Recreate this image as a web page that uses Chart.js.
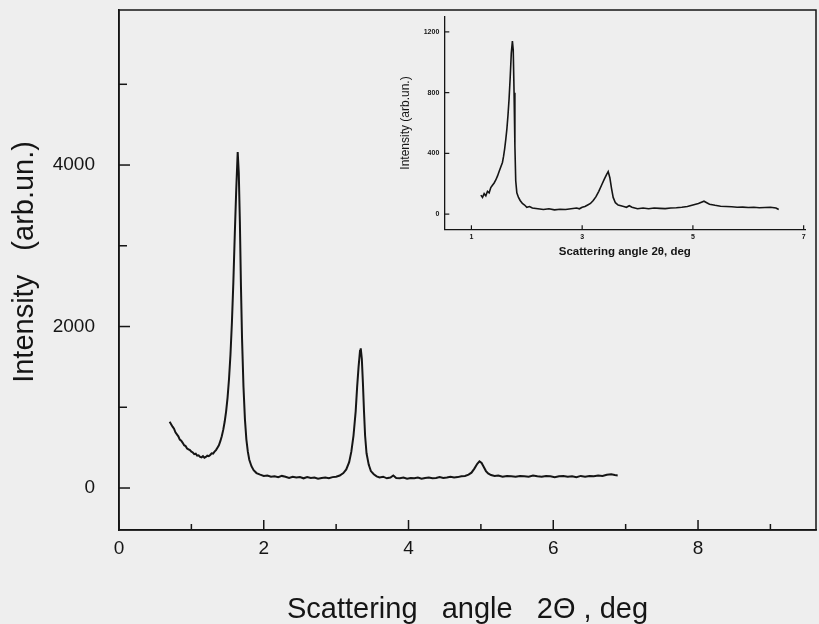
<!DOCTYPE html>
<html>
<head>
<meta charset="utf-8">
<script src="https://cdn.jsdelivr.net/npm/chart.js@4.4.1/dist/chart.umd.min.js"></script>
<style>
  html, body { margin: 0; padding: 0; background: #eeeeee; }
  #wrap { position: relative; width: 819px; height: 624px; overflow: hidden; }
  #mainChart { position: absolute; left: 0; top: 0; }
  #insetChart { position: absolute; left: 395px; top: 0; }
</style>
</head>
<body>
<div id="wrap">
  <canvas id="mainChart" width="819" height="624"></canvas>
  <canvas id="insetChart" width="420" height="265"></canvas>
</div>
<script>
// main pattern, scattering angle 2Θ (deg) vs intensity
const mainAngle = [
  0.70, 0.72, 0.74, 0.76, 0.78, 0.80, 0.82, 0.84, 0.86, 0.88, 0.90, 0.92, 0.94, 0.96, 0.98,
  1.00, 1.02, 1.04, 1.06, 1.08, 1.10, 1.12, 1.14, 1.16, 1.18, 1.20, 1.22, 1.24, 1.26, 1.28,
  1.30, 1.32, 1.34, 1.36, 1.38, 1.40, 1.42, 1.44, 1.46, 1.48, 1.50, 1.52, 1.54, 1.56, 1.58,
  1.60, 1.62, 1.64, 1.655, 1.67, 1.685, 1.70, 1.72, 1.74, 1.76, 1.78, 1.80, 1.83, 1.86, 1.90,
  1.95, 2.00, 2.05, 2.10, 2.15, 2.20, 2.25, 2.30, 2.35, 2.40, 2.45, 2.50, 2.55, 2.60, 2.65,
  2.70, 2.75, 2.80, 2.85, 2.90, 2.95, 3.00, 3.05, 3.10, 3.14, 3.18, 3.21, 3.24, 3.27, 3.29,
  3.31, 3.33, 3.34, 3.355, 3.37, 3.385, 3.40, 3.42, 3.45, 3.48, 3.52, 3.56, 3.60, 3.65, 3.70,
  3.75, 3.79, 3.83, 3.88, 3.93, 3.98, 4.03, 4.08, 4.13, 4.18, 4.23, 4.28, 4.33, 4.38, 4.43,
  4.48, 4.53, 4.58, 4.63, 4.68, 4.73, 4.78, 4.83, 4.87, 4.91, 4.95, 4.98, 5.01, 5.04, 5.07,
  5.10, 5.14, 5.19, 5.24, 5.30, 5.36, 5.42, 5.48, 5.54, 5.60, 5.66, 5.72, 5.78, 5.84, 5.90,
  5.96, 6.02, 6.08, 6.14, 6.20, 6.26, 6.32, 6.38, 6.44, 6.50, 6.56, 6.62, 6.68, 6.74, 6.80,
  6.85, 6.89
];
const mainIntensity = [
  820, 790, 760, 735, 690, 665, 640, 600, 585, 560, 530, 520, 490, 480, 470,
  450, 440, 420, 425, 400, 405, 385, 380, 395, 375, 385, 400, 395, 410, 430,
  425, 450, 470, 500, 530, 580, 640, 720, 820, 950, 1120, 1350, 1650, 2050, 2550,
  3150, 3700, 4160, 3900, 3300, 2500, 1850, 1250, 850, 600, 450, 350, 270, 220, 185,
  165, 150, 155, 140, 145, 135, 150, 140, 125, 140, 130, 135, 120, 135, 125,
  130, 115, 125, 130, 120, 135, 140, 155, 185, 230, 320, 450, 650, 950, 1250,
  1500, 1700, 1730, 1600, 1300, 950, 650, 430, 290, 210, 170, 145, 130, 140, 120,
  130, 155, 125, 120, 130, 115, 125, 120, 130, 115, 125, 130, 120, 125, 135,
  125, 130, 140, 130, 135, 145, 150, 165, 190, 240, 300, 330, 310, 260, 210,
  180, 160, 150, 155, 140, 150, 145, 140, 150, 145, 140, 155, 145, 140, 150,
  145, 135, 145, 150, 140, 145, 135, 150, 140, 150, 145, 155, 150, 165, 170,
  160, 155
];

// inset pattern
const insetAngle = [
  1.17, 1.20, 1.23, 1.26, 1.29, 1.32, 1.35, 1.38, 1.41, 1.44, 1.47, 1.50, 1.53, 1.56, 1.58,
  1.60, 1.62, 1.64, 1.66, 1.68, 1.70, 1.72, 1.74, 1.755, 1.77, 1.785, 1.80, 1.82, 1.85, 1.88,
  1.92, 1.96, 2.00, 2.05, 2.10, 2.20, 2.30, 2.40, 2.50, 2.60, 2.70, 2.80, 2.90, 2.95, 3.00,
  3.05, 3.10, 3.15, 3.20, 3.25, 3.30, 3.35, 3.40, 3.44, 3.47, 3.50, 3.53, 3.56, 3.60, 3.65,
  3.70, 3.75, 3.80, 3.85, 3.90, 4.00, 4.10, 4.20, 4.30, 4.40, 4.50, 4.60, 4.70, 4.80, 4.90,
  5.00, 5.10, 5.20, 5.25, 5.30, 5.40, 5.50, 5.60, 5.70, 5.80, 5.90, 6.00, 6.10, 6.20, 6.30,
  6.40, 6.50, 6.55
];
const insetIntensity = [
  125, 110, 135, 120, 150, 140, 175, 190, 205, 225, 250, 280, 310, 340, 380,
  430, 490, 560, 650, 760, 900, 1060, 1140, 1080, 800, 450, 220, 140, 110, 90,
  70, 60, 45, 50, 40, 35, 30, 35, 28, 32, 30, 35, 40, 35, 45,
  50, 60, 70, 90, 115, 150, 190, 230, 260, 280, 240, 170, 110, 75, 60,
  55, 50, 45, 55, 45, 35, 40, 35, 40, 38, 36, 40, 42, 45, 50,
  60, 70, 85, 75, 65, 58, 52, 50, 48, 45, 46, 44, 45, 42, 44,
  45, 40, 30
];

const mainXTicks = [0, 1, 2, 3, 4, 5, 6, 7, 8, 9];
const mainXLabels = [0, 2, 4, 6, 8];
const mainYTicks = [0, 1000, 2000, 3000, 4000, 5000];
const mainYLabels = [0, 2000, 4000];
const insetXTicks = [1, 3, 5, 7];
const insetYTicks = [0, 400, 800, 1200];

const ink = '#151515';
const fontFamily = '"Liberation Sans", Arial, sans-serif';

// draws short tick marks on the axis lines (inward or outward), plus optional frame
function tickPlugin(spec) {
    return {
        id: 'tickMarks',
        afterDraw(chart) {
            const ctx = chart.ctx;
            const area = chart.chartArea;
            ctx.save();
            ctx.strokeStyle = ink;
            ctx.lineWidth = spec.lineWidth;
            const xs = chart.scales.x;
            xs.ticks.forEach(t => {
                const px = xs.getPixelForValue(t.value);
                const len = spec.labeled(xs, t.value) ? spec.xMajor : spec.xMinor;
                ctx.beginPath();
                ctx.moveTo(px, area.bottom);
                ctx.lineTo(px, area.bottom + spec.xDir * len);
                ctx.stroke();
            });
            const ys = chart.scales.y;
            ys.ticks.forEach(t => {
                const py = ys.getPixelForValue(t.value);
                const len = spec.labeled(ys, t.value) ? spec.yMajor : spec.yMinor;
                ctx.beginPath();
                ctx.moveTo(area.left, py);
                ctx.lineTo(area.left + spec.yDir * len, py);
                ctx.stroke();
            });
            if (spec.box) {
                ctx.lineWidth = spec.boxWidth;
                ctx.strokeRect(area.left, area.top, area.right - area.left, area.bottom - area.top);
            }
            ctx.restore();
        }
    };
}

// keep the chart area exactly where the axes are pinned
const noEdgePad = s => { s.paddingTop = 0; s.paddingBottom = 0; s.paddingLeft = 0; s.paddingRight = 0; };

// main chart
const mainCtx = document.getElementById('mainChart').getContext('2d');
new Chart(mainCtx, {
    type: 'line',
    data: {
        datasets: [{
            data: mainAngle.map((a, i) => ({ x: a, y: mainIntensity[i] })),
            borderColor: ink,
            borderWidth: 2,
            pointRadius: 0,
            tension: 0,
            fill: false
        }]
    },
    options: {
        responsive: false,
        animation: false,
        parsing: false,
        layout: { padding: { top: 10, right: 3, left: 0, bottom: 0 } },
        plugins: { legend: { display: false }, tooltip: { enabled: false } },
        scales: {
            x: {
                type: 'linear',
                min: 0,
                max: 9.63,
                afterBuildTicks: s => { s.ticks = mainXTicks.map(v => ({ value: v })); },
                afterFit: s => { s.height = 94; noEdgePad(s); },
                grid: { display: false, drawTicks: false },
                border: { display: true, color: ink, width: 1.5 },
                ticks: {
                    autoSkip: false,
                    maxRotation: 0,
                    padding: 7.6,
                    color: ink,
                    font: { family: fontFamily, size: 19 },
                    callback: v => mainXLabels.includes(v) ? String(v) : ''
                },
                title: {
                    display: true,
                    text: 'Scattering   angle   2Θ , deg',
                    color: ink,
                    font: { family: fontFamily, size: 29 },
                    padding: { top: 0, bottom: -3 }
                }
            },
            y: {
                type: 'linear',
                min: -520,
                max: 5920,
                afterBuildTicks: s => { s.ticks = mainYTicks.map(v => ({ value: v })); },
                afterFit: s => { s.width = 119; noEdgePad(s); },
                grid: { display: false, drawTicks: false },
                border: { display: true, color: ink, width: 1.5 },
                ticks: {
                    autoSkip: false,
                    padding: 24,
                    color: ink,
                    font: { family: fontFamily, size: 19 },
                    callback: v => mainYLabels.includes(v) ? String(v) : ''
                },
                title: {
                    display: true,
                    text: '  Intensity   (arb.un.)',
                    color: ink,
                    font: { family: fontFamily, size: 29 },
                    padding: { top: 7.6, bottom: 0 }
                }
            }
        }
    },
    plugins: [tickPlugin({
        lineWidth: 1.5, xMajor: 10, xMinor: 6, xDir: -1, yMajor: 11, yMinor: 8, yDir: 1,
        box: true, boxWidth: 1.5,
        labeled: (s, v) => s.axis === 'x' ? mainXLabels.includes(v) : mainYLabels.includes(v)
    })]
});

// inset chart
const insetCtx = document.getElementById('insetChart').getContext('2d');
new Chart(insetCtx, {
    type: 'line',
    data: {
        datasets: [{
            data: insetAngle.map((a, i) => ({ x: a, y: insetIntensity[i] })),
            borderColor: ink,
            borderWidth: 1.6,
            pointRadius: 0,
            tension: 0,
            fill: false
        }]
    },
    options: {
        responsive: false,
        animation: false,
        parsing: false,
        layout: { padding: { top: 16.7, right: 9.7, left: 0, bottom: 0 } },
        plugins: { legend: { display: false }, tooltip: { enabled: false } },
        scales: {
            x: {
                type: 'linear',
                min: 0.51,
                max: 7.03,
                afterBuildTicks: s => { s.ticks = insetXTicks.map(v => ({ value: v })); },
                afterFit: s => { s.height = 35.7; noEdgePad(s); },
                grid: { display: false, drawTicks: false },
                border: { display: true, color: ink, width: 1.3 },
                ticks: {
                    autoSkip: false,
                    maxRotation: 0,
                    padding: 4,
                    color: ink,
                    font: { family: fontFamily, size: 7, weight: 'bold' },
                    callback: v => String(v)
                },
                title: {
                    display: true,
                    text: 'Scattering angle 2θ, deg',
                    color: ink,
                    font: { family: fontFamily, size: 11.5, weight: 'bold' },
                    padding: { top: 0, bottom: 6.1 }
                }
            },
            y: {
                type: 'linear',
                min: -100,
                max: 1300,
                afterBuildTicks: s => { s.ticks = insetYTicks.map(v => ({ value: v })); },
                afterFit: s => { s.width = 49.3; noEdgePad(s); },
                grid: { display: false, drawTicks: false },
                border: { display: true, color: ink, width: 1.3 },
                ticks: {
                    autoSkip: false,
                    padding: 5,
                    color: ink,
                    font: { family: fontFamily, size: 7, weight: 'bold' },
                    callback: v => String(v)
                },
                title: {
                    display: true,
                    text: 'Intensity (arb.un.)',
                    color: ink,
                    font: { family: fontFamily, size: 12 },
                    padding: { top: 3.8, bottom: 0 }
                }
            }
        }
    },
    plugins: [tickPlugin({
        lineWidth: 1.2, xMajor: 4, xMinor: 4, xDir: -1, yMajor: 5, yMinor: 5, yDir: 1,
        box: false, boxWidth: 1,
        labeled: () => true
    })]
});
</script>
</body>
</html>
